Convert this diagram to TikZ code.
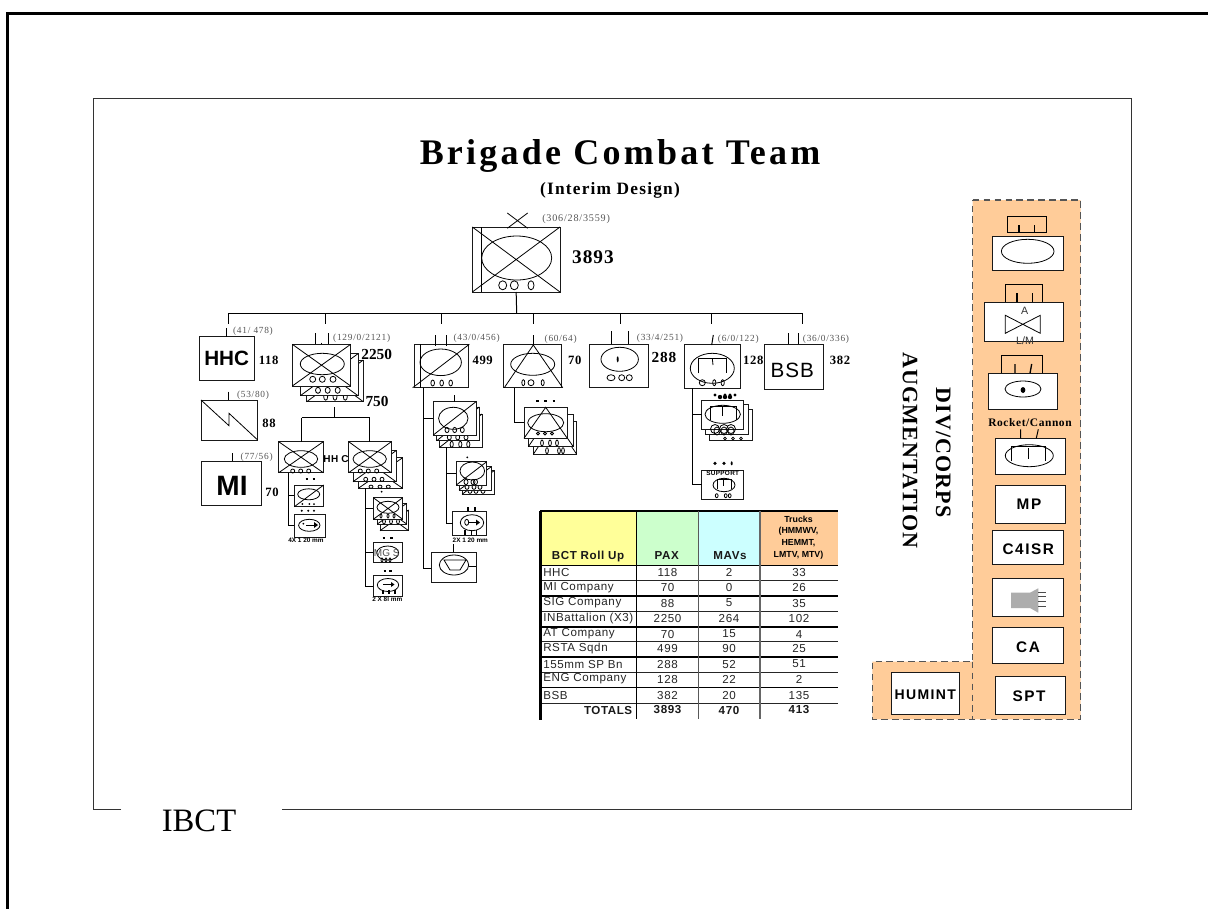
\documentclass[tikz,border=0pt]{standalone}
\usepackage{fontspec}
\setmainfont{Liberation Serif}
\setsansfont{Liberation Sans}
\newfontfamily\titlef[LetterSpace=9]{Liberation Serif}
\newfontfamily\subf[LetterSpace=7]{Liberation Serif}
\newfontfamily\spf[LetterSpace=5]{Liberation Serif}
\newfontfamily\labf[LetterSpace=8]{Liberation Serif}
\newfontfamily\ssp[LetterSpace=5]{Liberation Sans}
\newfontfamily\sspw[LetterSpace=10]{Liberation Sans}
\definecolor{panel}{HTML}{FFCC99}
\definecolor{hy}{HTML}{FFFF99}
\definecolor{hg}{HTML}{CCFFCC}
\definecolor{hc}{HTML}{CCFFFF}
\definecolor{dashc}{HTML}{555555}
\definecolor{labc}{HTML}{555555}
\tikzset{
  ubox/.style={draw=black!90,fill=white,line width=0.75pt,inner sep=0pt,outer sep=0pt},
  ln/.style={line width=0.75pt,black},
  thin2/.style={line width=0.6pt,black},
  lab/.style={inner sep=0pt,text=labc,font=\labf\fontsize{7}{8}\selectfont},
  num/.style={inner sep=0pt,font=\spf\bfseries\fontsize{9.5}{10}\selectfont},
  tcell/.style={inner sep=0pt,font=\ssp\fontsize{8.7}{9}\selectfont,text=black!85},
  thead/.style={inner sep=0pt,font=\ssp\bfseries\fontsize{8.7}{9}\selectfont,text=black!90},
  tiny2/.style={inner sep=0pt,font=\sffamily\bfseries\fontsize{4.8}{5}\selectfont},
  ptext/.style={inner sep=0pt,font=\sspw\bfseries\fontsize{11.5}{12}\selectfont},
}
\newcommand{\ub}[6][]{\node[ubox,minimum width={(#5-#3)*0.75pt},minimum height={(#6-#4)*0.75pt}] (#2) at ({(#3+#5)/2},{(#4+#6)/2}) {#1};}
\newcommand{\xx}[1]{\draw[thin2] (#1.north west)--(#1.south east) (#1.north east)--(#1.south west);}
\newcommand{\dg}[1]{\draw[thin2] (#1.south west)--(#1.north east);}
\newcommand{\ov}[4]{\draw[thin2] (#1,#2) ellipse [x radius=#3,y radius=#4];}
\newcommand{\ovs}[6]{\ov{#2}{#1}{#5}{#6}\ov{#3}{#1}{#5}{#6}\ov{#4}{#1}{#5}{#6}}
\newcommand{\dashes}[2]{\foreach \q in {#2}{\draw[line width=1.3pt] (\q-1.3,#1)--(\q+1.3,#1);}}
\newcommand{\blobs}[3]{\foreach \q in {#2}{\fill (\q,#1) ellipse [x radius=#3,y radius=#3];}}
\newcommand{\sarrow}[4]{\draw[thin2] (#1,#2)--(#3,#2); \fill (#3,#2-#4)--(#3+#4+1,#2)--(#3,#2+#4)--cycle;}
\begin{document}
\begin{tikzpicture}[x=0.75pt,y=-0.75pt]
\useasboundingbox (0,0) rectangle (1208,908);
\fill[white] (0,0) rectangle (1208,908);
% frames
\draw[line width=1.6pt,black,line cap=rect] (7.5,908)--(7.5,13.5)--(1208,13.5);
\draw[line width=0.8pt,black!80] (121,809.5)--(93.7,809.5)--(93.7,98.5)--(1131.7,98.5)--(1131.7,809.5)--(282,809.5);
\node[inner sep=0pt,font=\fontsize{24.5}{26}\selectfont] (ibct) at (199,820.5) {IBCT};
% title
\node[inner sep=0pt,font=\titlef\bfseries\fontsize{27}{29}\selectfont] (title) at (620,156) {Brigade Combat Team};
\node[inner sep=0pt,font=\subf\bfseries\fontsize{13}{14}\selectfont] (subtitle) at (610,190) {(Interim Design)};
% bus
\coordinate (busM) at (516.7,313.3);
\coordinate (busL) at (228.3,313.3);
\coordinate (busR) at (802.7,313.3);
\coordinate (t1) at (228.3,324);
\coordinate (t2) at (325,324);
\coordinate (t3) at (441,324);
\coordinate (t4) at (533.3,324);
\coordinate (t5) at (620.7,324);
\coordinate (t6) at (711.3,324);
\coordinate (t7) at (802.7,324);
\draw[ln] (busL)--(busR);
\foreach \q in {t1,t2,t3,t4,t5,t6,t7}{\draw[ln] (\q |- busM)--(\q);}
% main unit
\ub{main}{472.3}{227}{560}{292}
\draw[ln] (main.south)--(busM);
\draw[thin2] (481.7,227)--(481.7,292);
\xx{main}
\ov{516.7}{258}{35}{22}
\ov{502.7}{285.3}{4}{4.5}\ov{514.3}{285.3}{4}{4.5}\ov{531}{285.3}{3}{4.5}
\draw[thin2] (507.3,213)--(527.7,228.3) (527.7,213)--(507.3,228.3);
\node[lab,anchor=west,font=\labf\fontsize{7.6}{8}\selectfont] (lmain) at (542,219.3) {(306/28/3559)};
\node[inner sep=0pt,font=\spf\bfseries\fontsize{14.5}{15}\selectfont] (nmain) at (593,256.7) {3893};
% HHC
\ub[\sffamily\bfseries\fontsize{15.5}{16}\selectfont HHC]{hhc}{199.3}{336.7}{254}{380.7}
\draw[ln] (hhc.north)--++(0,-9);
\node[lab] (lhhc) at (253,331) {(41/ 478)};
\node[num] (nhhc) at (268.7,360) {118};
% SIG
\ub{sig}{201}{400}{257.7}{440}
\draw[ln] (228.3,391.7)--(228.3,400);
\draw[thin2] (sig.north west)--(229,425.7)--(229,413.3)--(sig.south east);
\node[lab] (lsig) at (253,395) {(53/80)};
\node[num] (nsig) at (269,423.3) {88};
% MI
\ub{mi}{201.7}{461.3}{261.3}{505}
\node[inner sep=0pt,font=\sffamily\bfseries\fontsize{21}{22}\selectfont] (mit) at (232,486) {MI};
\draw[ln] (232.3,453.3)--(232.3,461.3);
\node[lab] (lmi) at (256.7,457.3) {(77/56)};
\node[num] (nmi) at (272,492.3) {70};
% infantry battalion
\ub{inf3}{306.7}{360}{363.3}{401.7}\xx{inf3}
\ovs{396.7}{325.7}{335}{345.3}{2}{3.5}
\ub{inf2}{300.3}{353.7}{358}{395.7}\xx{inf2}
\ovs{390.3}{318}{327.7}{337.7}{2.5}{3}
\ub{inf1}{292.3}{344.3}{350.7}{386}\xx{inf1}
\ov{322.3}{364}{22}{10.7}
\ovs{379.3}{312.7}{322.3}{333}{3}{3}
\draw[ln] (315.3,333.3)--(315.3,344.3) (328.7,333.3)--(328.7,344.3);
\draw[thin2] (321.3,342.5)--(321.3,344.3);
\node[lab] (linf) at (361.7,338.3) {(129/0/2121)};
\node[inner sep=0pt,font=\bfseries\fontsize{11.5}{12}\selectfont] (ninfa) at (376.7,354.7) {2250};
\node[inner sep=0pt,font=\bfseries\fontsize{11.5}{12}\selectfont] (ninfb) at (377,401.7) {750};
% sub-bus
\coordinate (sbT) at (334.7,407);
\coordinate (sbM) at (334.7,417.7);
\coordinate (sbL) at (301.7,417.7);
\coordinate (sbR) at (369.7,417.7);
\draw[ln] (sbT)--(sbM);
\draw[ln] (sbL)--(sbR);
% left company
\ub{co1}{278.7}{441.7}{323.3}{472.7}\xx{co1}
\draw[ln] (sbL)--(co1.north -| sbL);
\ov{301}{459}{16.7}{8.3}
\ovs{471}{292.7}{300.7}{308.7}{2}{2}
% right company stack
\ub{co4}{358.3}{457.7}{402.7}{488.3}\xx{co4}
\ovs{486.7}{371}{380}{388.3}{2}{1.6}
\ub{co3}{353}{450.7}{396}{481.7}\xx{co3}
\ovs{479.3}{365.7}{374}{382}{2}{2}
\ub{co2}{348.7}{441.7}{391.3}{472.7}\xx{co2}
\draw[ln] (sbR)--(co2.north -| sbR);
\ov{369.7}{459}{16.7}{8.3}
\ovs{471}{360.3}{368.3}{376.7}{2}{2}
\node[inner sep=0pt,font=\ssp\bfseries\fontsize{7.5}{8}\selectfont] (hhctxt) at (336,459) {HH C};
% left co children
\ub{mort}{294.3}{485}{323.7}{506.7}
\dg{mort}
\ov{308.7}{494.3}{11}{5.5}
\dashes{479.3}{307,314}
\blobs{504}{302.3,309.3,314}{1}
\ub{mor}{294.3}{514}{325.3}{537}
\ov{309.3}{525.3}{10.7}{6}
\blobs{510.7}{301.7,308.3,314}{1.1}
\fill (303.3,523.7) circle [radius=1];
\sarrow{306}{525}{314}{3}
\coordinate (lv) at (288.7,472.7);
\draw[ln] (lv) |- (mort.west);
\draw[ln] (lv) |- (mor.west);
\node[tiny2] (t4x) at (306,540.7) {4X 1 20 mm};
% right co children
\ub{mg3}{380}{510}{408.7}{530.7}\xx{mg3}
\ub{mg2}{377.3}{503.3}{406.7}{524}\xx{mg2}
\ovs{521.5}{384}{391}{398}{1.4}{2.5}
\ub{mg1}{373.3}{497.7}{402.7}{519.3}\xx{mg1}
\ov{388}{507.3}{11}{6}
\ovs{516}{381}{388}{394}{1}{2}
\blobs{491.7}{381.7}{1}
\ub{mgs}{373.3}{542.7}{402.7}{562.7}
\ov{387.7}{553}{11}{7}
\node[inner sep=0pt,text=black!70,font=\sffamily\fontsize{7.5}{8}\selectfont] (mgtxt) at (386.7,553.3) {MG S};
\dashes{538}{384,391.5}
\ovs{560}{382}{386}{390}{1}{2}
\ub{m81}{373.3}{575.3}{402.7}{596.7}
\ov{388}{585}{10.7}{6.5}
\dashes{571.3}{385,390.5}
\sarrow{383}{584.5}{391}{2.5}
\draw[ln,line width=1pt] (383,590)--(383,594) (389,590)--(389,594) (395,590)--(395,594);
\coordinate (rv) at (365.3,488.3);
\draw[ln] (rv) |- (mg1.west);
\draw[ln] (rv) |- (mgs.west);
\draw[ln] (rv) |- (m81.west);
\node[tiny2] (t2x) at (387.3,599.7) {2 X  8l  mm};
% RSTA
\ub{rsta}{414.3}{344.3}{468.7}{387.7}
\draw[thin2] (420,344.3)--(420,387.7);
\draw[thin2] (412.7,387.7)--(469.3,344.3);
\ov{440.7}{362.3}{20.7}{13.3}
\ovs{383}{432.7}{441.7}{450.7}{1.8}{3}
\draw[ln] (435,335)--(435,345.7) (446.7,335)--(446.7,345.7);
\node[lab] (lrsta) at (476.7,338.3) {(43/0/456)};
\node[num] (nrsta) at (482.7,360) {499};
% RSTA children stack
\ub{tr3}{439.7}{414}{482}{447.3}\dg{tr3}
\ovs{444.3}{451.7}{460.3}{468.3}{1.6}{3}
\ub{tr2}{436.7}{407}{479.3}{440.7}\dg{tr2}
\ovs{437.3}{449.3}{457.7}{466}{2}{2.6}
\ub{tr1}{433.3}{401.7}{476}{435}\dg{tr1}
\ov{453.3}{418.3}{14.7}{11}
\ovs{430}{447}{454.7}{462.3}{2}{2.6}
\draw[ln] (tr1.north)--++(0,-6.7);
\coordinate (rv1) at (423.7,387.7);
\draw[ln] (rv1) |- (tr1.west);
\coordinate (rv2) at (446.7,447.3);
% troop G
\ub{g3}{462}{470.7}{494}{494.3}\dg{g3}
\ovs{491}{470}{476}{483}{2}{2.4}
\ub{g2}{459}{466.7}{491.3}{490}\dg{g2}
\ovs{487}{467}{474}{480}{2}{2.4}
\ub{g1}{456.3}{461.7}{486.7}{485}\dg{g1}
\ov{472.3}{471}{12.3}{9}
\ovs{482}{466}{473}{475.5}{2}{2.6}
\blobs{457.3}{467.3}{1}
\ub{h1}{452.7}{511.7}{486}{535.7}
\ov{472}{522.7}{11.7}{8}
\ov{466.7}{522.3}{2}{3}
\sarrow{468.7}{522.5}{476}{3}
\draw[line width=1.1pt] (468,507)--(468,510.5) (475,507)--(475,510.5);
\draw[line width=1.1pt] (465,530)--(465,535) (471.7,530)--(471.7,535) (476.7,530)--(476.7,535);
\node[tiny2] (t2b) at (470.3,540.7) {2X  1 20 mm};
\draw[ln] (rv2) |- (g1.west);
\draw[ln] (rv2) |- (h1.west);
% troop I
\ub{iu}{431.3}{552}{476}{582.7}
\ov{454}{565}{14.7}{10}
\draw[thin2] (444,560)--(466,560)--(460,570)--(450,570)--cycle;
\draw[thin2] (468.7,566)--(iu.east |- 0,566);
\draw[ln] (iu.north)--++(0,-8);
\coordinate (rv3) at (423.7,568);
\draw[ln] (rv1)--(rv3)--(iu.west |- rv3);
% AT
\ub{at}{503.3}{344.3}{561.3}{387.7}
\draw[thin2] (504.3,387.7)--(533.3,345)--(562.7,387.7);
\ov{532.7}{364.3}{22}{11}
\ov{523.3}{382.7}{1.5}{3}\ov{531}{382.7}{3}{3}\ov{542.7}{382.7}{1.5}{3}
\draw[ln] (533.3,335)--(533.3,345);
\node[lab] (lat) at (560.7,339.3) {(60/64)};
\node[num] (nat) at (574.7,360) {70};
\ub{atc}{533.3}{421.7}{576.7}{454.3}
\draw[thin2] (atc.south west)--(555,421.7)--(atc.south east);
\ovs{450.7}{547}{559}{563}{1.4}{3}
\ub{atb}{528.3}{414}{573.3}{446.7}
\draw[thin2] (atb.south west)--(550.8,414)--(atb.south east);
\ovs{443}{542}{550}{557}{1.4}{3}
\ub{ata}{524}{407.3}{567.3}{438.3}
\draw[thin2] (ata.south west)--(545.7,407.3)--(ata.south east);
\ov{545.7}{422.7}{18}{9}
\ovs{433.5}{538}{545}{552}{1.5}{1.5}
\dashes{400.7}{537.3,545.7,554}
\coordinate (av) at (514.7,387.7);
\draw[ln] (av) |- (ata.west);
% ART
\ub{art}{589.7}{344.3}{648.3}{387.7}
\ov{619.7}{359.3}{18.7}{12}
\fill (617.7,359.3) ellipse [x radius=1,y radius=3];
\ov{611}{377.7}{4}{3}\ov{621.7}{377.7}{3}{3}\ov{629.3}{377.7}{3}{3}
\draw[ln] (611,331)--(611,344.3) (628.3,331)--(628.3,344.3);
\node[lab] (lart) at (660,338.7) {(33/4/251)};
\node[inner sep=0pt,font=\spf\bfseries\fontsize{11.5}{12}\selectfont] (nart) at (664,357.7) {288};
% ENG
\ub{eng}{684.3}{344.3}{740.7}{388.3}
\ov{712.3}{368.3}{22}{15}
\draw[thin2] (698.3,373.3)--(698.3,358.3)--(726.7,358.3)--(726.7,373.3);
\draw[thin2] (712.3,358.3)--(713,365);
\ov{702.3}{382.7}{3}{3}\ov{714.3}{382.7}{1.6}{3}\ov{722.7}{382.7}{1.6}{3}
\draw[ln] (713.3,335)--(711.7,345);
\node[lab] (leng) at (738.3,339.3) {(6/0/122)};
\node[num] (neng) at (753.3,360) {128};
\ub{k3}{709.3}{409}{752.3}{440}
\ovs{438.5}{725}{733}{741}{1.4}{1.4}
\ub{k2}{705.5}{404.7}{748.7}{434.3}
\ub{k1}{701.7}{400}{743.3}{429}
\ov{722.7}{414.3}{17.7}{9}
\draw[thin2] (710,420)--(710,406.3)--(736,406.3)--(736,420);
\draw[thin2] (722.7,406.3)--(722.7,416);
\ovs{429}{715}{724}{731}{4.5}{4.5}
\ovs{431}{717}{724}{731}{3}{4}
\blobs{395}{715,725,730,735}{1.6}
\blobs{397}{720,725,730}{2.2}
\ub{sup}{701.7}{470.3}{743.3}{499.3}
\ov{724}{485}{11}{6.7}
\draw[thin2] (717,489)--(717,479.5)--(731,479.5)--(731,489);
\draw[thin2] (723,479.5)--(723,486);
\node[inner sep=0pt,font=\ssp\bfseries\fontsize{4.8}{5}\selectfont] (suptxt) at (722.7,473.5) {SUPPORT};
\blobs{463.3}{715,724}{1.8}
\fill (731.7,463.3) ellipse [x radius=1,y radius=2];
\ov{716.7}{495.7}{1.4}{2}\ov{725.7}{495.7}{1.4}{2}\ov{729.7}{495.7}{1.4}{2}
\coordinate (ev) at (692.3,388.3);
\draw[ln] (ev) |- (k1.west);
\draw[ln] (ev) |- (sup.west);
% BSB
\ub{bsb}{764}{344.3}{823.7}{389.3}
\node[inner sep=0pt,font=\ssp\fontsize{15.5}{16}\selectfont] (bsbt) at (792.3,370) {BSB};
\draw[ln] (788.7,333.3)--(788.7,344.3) (798.3,333.3)--(798.3,344.3);
\node[lab] (lbsb) at (826,339.3) {(36/0/336)};
\node[num] (nbsb) at (840,360) {382};
% table
\fill[hy] (540,511) rectangle (636.7,565.7);
\fill[hg] (636.7,511) rectangle (698.3,565.7);
\fill[hc] (698.3,511) rectangle (760,565.7);
\fill[panel] (760,511) rectangle (837.7,565.7);
\foreach \y in {580.7,611.7,641.7,672.3,703.3}{\draw[line width=0.6pt,black!85] (540,\y)--(837.7,\y);}
\foreach \y in {595.7,626.7,656.7,687.3}{\draw[line width=1.2pt,black] (540,\y)--(837.7,\y);}
\draw[line width=0.6pt] (540,565.7)--(837.7,565.7);
\draw[line width=1.2pt] (540,511)--(837.7,511);
\draw[line width=0.7pt] (636.7,511)--(636.7,719);
\draw[line width=0.7pt,black!65] (698.3,511)--(698.3,719);
\draw[line width=1.1pt,black!60] (760,511)--(760,719);
\draw[line width=1.8pt] (540.5,510.5)--(540.5,719.5);
\node[thead] (hroll) at (588,556) {BCT Roll Up};
\node[thead] (hpax) at (666.7,556) {PAX};
\node[thead] (hmav) at (730,556) {MAVs};
\node[inner sep=0pt,align=center,font=\sffamily\bfseries\fontsize{6.6}{8.8}\selectfont] (htrk) at (798.5,537.5) {Trucks\\(HMMWV,\\HEMMT,\\LMTV, MTV)};
\foreach \y/\n/\a/\b/\c [count=\i] in {
 572/HHC/118/2/33, 587.5/MI Company/70/0/26, 603/SIG Company/88/5/35, 618/{INBattalion (X3)}/2250/264/102,
 634/AT Company/70/15/4, 648.5/RSTA Sqdn/499/90/25, 664/155mm SP Bn/288/52/51, 679/ENG Company/128/22/2,
 695/BSB/382/20/135}{
 \node[tcell,anchor=west] (rn\i) at (543,\y) {\n};
 \node[tcell] (rp\i) at (667.5,\y) {\a};
 \node[tcell] (rm\i) at (729,\y) {\b};
 \node[tcell] (rt\i) at (799,\y) {\c};
}
\node[thead,anchor=east] (rnT) at (632.5,710) {TOTALS};
\node[thead] (rpT) at (667.5,710) {3893};
\node[thead] (rmT) at (729,710) {470};
\node[thead] (rtT) at (799,710) {413};
% augmentation text
\node[inner sep=0pt,rotate=-90,font=\spf\bfseries\fontsize{16.5}{18}\selectfont] (div) at (943.3,452.5) {DIV/CORPS};
\node[inner sep=0pt,rotate=-90,font=\spf\bfseries\fontsize{16.5}{18}\selectfont] (aug) at (910,450.7) {AUGMENTATION};
% panel
\fill[panel] (972.7,200)--(1080.7,200)--(1080.7,719.3)--(872.3,719.3)--(872.3,661.7)--(972.7,661.7)--cycle;
\draw[line width=0.9pt,dashc,dash pattern=on 5pt off 3.2pt] (972.7,200)--(1080.7,200)--(1080.7,719.3)--(872.3,719.3)--(872.3,661.7)--(972.7,661.7)--cycle;
\draw[line width=0.9pt,dashc,dash pattern=on 5pt off 3.2pt] (972.7,661.7)--(972.7,719.3);
% P1
\draw[ln,fill=panel] (1007.7,232.3)--(1007.7,216)--(1046.3,216)--(1046.3,232.3)--cycle;
\draw[line width=1pt] (1019,225)--(1019,233) (1034.3,225)--(1034.3,233);
\ub{p1}{992}{236}{1063.7}{270.3}
\ov{1027.7}{251.3}{26.3}{12}
% P2
\draw[ln,fill=panel] (1005.3,302.7)--(1005.3,284.7)--(1042.3,284.7)--(1042.3,302.7);
\draw[line width=1pt] (1017,293.3)--(1017,302.7) (1032.3,293.3)--(1032.3,302.7);
\ub{p2}{984.3}{302.7}{1063.7}{341}
\draw[thin2] (1005.3,315.3)--(1040.3,333.3)--(1040.3,315.3)--(1005.3,333.3)--cycle;
\node[inner sep=0pt,text=black!80,font=\sffamily\fontsize{8}{9}\selectfont] (p2a) at (1024.7,311) {A};
\node[inner sep=0pt,text=black!80,font=\sffamily\fontsize{8}{9}\selectfont] (p2b) at (1025,340.7) {L/M};
% P3
\draw[ln,fill=panel] (1001.3,373.3)--(1001.3,355)--(1042.3,355)--(1042.3,373.3);
\draw[line width=1pt] (1015,364)--(1015,373.3) (1031.7,364)--(1030,373.3);
\ub{p3}{988.3}{373.3}{1057.3}{409.3}
\ov{1023}{389}{18}{8}
\fill (1023,390) ellipse [x radius=2.4,y radius=3];
% P4
\node[inner sep=0pt,font=\spf\bfseries\fontsize{8.6}{9}\selectfont] (rc) at (1030,422.3) {Rocket/Cannon};
\ub{p4}{995.7}{438.3}{1065.3}{474.3}
\draw[ln] (1020.7,429.3)--(1020.7,438.3) (1038.3,429.3)--(1036.3,438.3);
\ov{1029.3}{455.7}{24}{11}
\draw[thin2] (1011.3,461)--(1011.3,446.5)--(1045.3,446.5)--(1045.3,461);
\draw[thin2] (1028.3,448)--(1028.3,459);
% P text
\ub{pmp}{995.7}{485}{1065.3}{523}
\node[ptext] (tmp) at (1029,504.3) {MP};
\ub{pc4}{992}{530.3}{1063.7}{564.7}
\node[ptext] (tc4) at (1028.3,549) {C4ISR};
\ub{phn}{992}{578.7}{1063.7}{616.7}
\fill[black!32] (1011,592.7)--(1030,592.7)--(1038.3,588.3)--(1038.3,612.7)--(1030,608)--(1011,608)--cycle;
\draw[line width=0.5pt,black!70] (1038.3,592.7)--(1046,592.7) (1038.3,596.7)--(1046,596.7) (1038.3,601.7)--(1046,601.7) (1038.3,606.7)--(1046,606.7);
\ub{pca}{992}{627.7}{1063.7}{663.7}
\node[ptext] (tca) at (1028,647.5) {CA};
\ub{pspt}{995.7}{676.3}{1065.3}{714.3}
\node[ptext] (tspt) at (1029,696.5) {SPT};
\ub{phum}{891.3}{672.7}{959.3}{714.3}
\node[ptext,font=\sspw\bfseries\fontsize{10.5}{11}\selectfont] (thum) at (925.3,695) {HUMINT};
\end{tikzpicture}
\end{document}
